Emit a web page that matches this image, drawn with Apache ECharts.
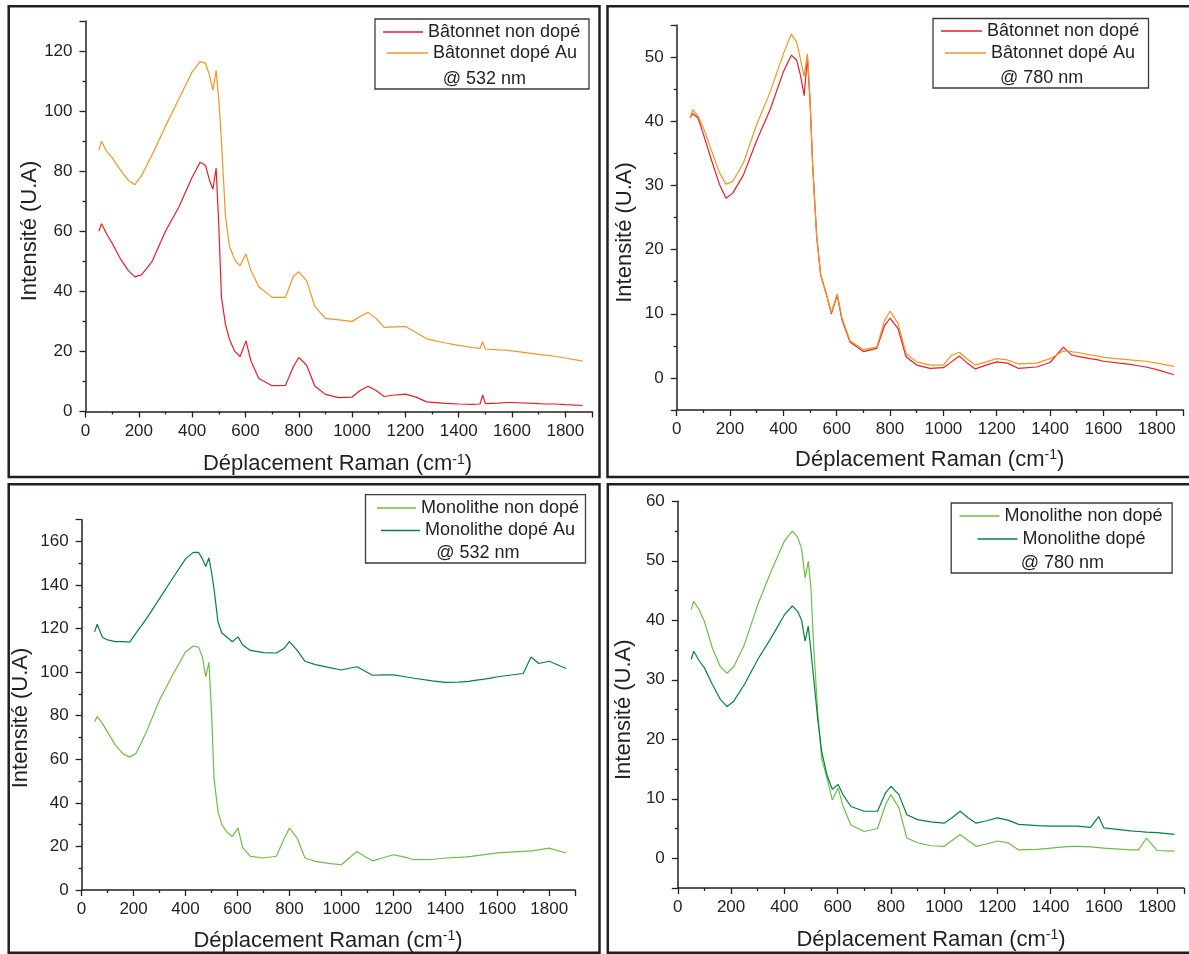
<!DOCTYPE html>
<html>
<head>
<meta charset="utf-8">
<script src="https://cdn.jsdelivr.net/npm/echarts@6/dist/echarts.min.js"></script>
<style>
html,body{margin:0;padding:0;background:#fff;}
#chart{width:1189px;height:954px;}
</style>
</head>
<body>
<div id="chart"></div>
<script>
// Raman shift (cm-1) sample positions shared by all spectra
const shift = [50,60,80,100,130,160,185,210,250,300,350,400,430,450,465,478,490,500,510,525,540,560,580,602,620,650,700,750,780,800,830,860,900,950,1000,1030,1060,1090,1120,1160,1200,1240,1280,1350,1400,1450,1480,1490,1500,1550,1580,1600,1700,1730,1760,1800,1865];

// Panel 1: Bâtonnet @ 532 nm
const baton532NonDope = [60,62.5,59,56,51,47,44.8,45.5,50,60,68,78,83,82,77,74,81,62,38,29,24,20,18.3,23.5,17,11,8.6,8.7,15,18,15.3,8.5,5.7,4.6,4.8,7,8.4,7,5,5.5,5.8,4.8,3.2,2.7,2.5,2.4,2.5,5.5,2.6,2.8,3,3,2.6,2.5,2.5,2.3,2];
const baton532Dope = [87,90,86.5,84.5,80.5,77,75.5,78.5,85.5,95,104,113,116.5,116,112,107,113.5,104,90,65,55,50.5,48.5,52.5,47,41.5,38,38,45,46.5,43.5,35,31,30.5,30,31.6,33,31,28,28.2,28.3,26.3,24.2,22.8,22,21.3,21,23.2,20.8,20.5,20.4,20.2,19,18.7,18.4,17.8,16.8];

// Panel 2: Bâtonnet @ 780 nm
const baton780NonDope = [40.5,41.2,40.5,38,34,30.2,28,28.8,31.6,37,41.8,47.7,50.3,49.5,47,44,50,43,33,22,16,13.2,10,12.9,9,5.6,4.1,4.6,8.2,9.3,7.7,3.3,2,1.5,1.6,2.5,3.4,2.3,1.4,2,2.5,2.3,1.5,1.7,2.4,4.8,3.6,3.5,3.4,3,2.8,2.6,2.1,1.9,1.7,1.3,0.5];
const baton780Dope = [40.5,41.8,40.8,39,35.5,32,30.2,30.6,33.5,39.5,44.5,50.5,53.6,52.3,49.5,47,50.5,43.5,33,22,16,13.2,10.2,13.1,9.3,5.8,4.4,4.8,9,10.4,8.5,3.8,2.5,2,2,3.5,4,2.9,2,2.5,3,2.8,2.2,2.3,3,4.2,4.1,4,4,3.6,3.4,3.2,2.8,2.7,2.6,2.3,1.8];

// Panel 3: Monolithe @ 532 nm
const mono532NonDope = [77.3,79.6,76.5,72.5,66.5,62.5,61,62.8,72.7,87.2,98.6,109.3,112,111.5,107,98,104.5,82,51,36,30,26.5,24.6,28.4,19.5,15.4,14.7,15.5,23.8,28.4,23.8,14.7,13.1,12.2,11.6,14.7,17.7,15.4,13.4,14.8,16.2,15.2,13.9,14,14.7,15,15.2,15.3,15.4,16.2,16.7,17,17.7,18,18.4,19.2,17];
const mono532Dope = [118.5,122,116,114.8,114,114,113.8,118,124.6,133.8,143,152,155,155,152,148.5,152.5,146,138,123,118,116,114,116.2,112.5,110,109,108.8,111,114,110,105,103.5,102.2,101,101.8,102.5,100.5,98.6,98.8,98.8,98,97.2,96,95.3,95.4,95.7,95.8,96,96.8,97.4,97.9,99.4,107,104,105,101.7];

// Panel 4: Monolithe @ 780 nm
const mono780NonDope = [41.8,43.2,41.8,39.8,35.3,32.2,31.1,32.2,35.9,42.6,48.2,53.3,55,54,52,47.1,49.9,45.4,35.9,24.7,16.8,13.5,9.8,11.8,8.8,5.6,4.5,5,9,10.7,8.5,3.4,2.6,2.1,2,3,4,3,2,2.4,2.9,2.6,1.4,1.5,1.7,1.9,2,2,2,1.9,1.8,1.7,1.4,1.4,3.4,1.3,1.2];
const mono780Dope = [33.4,34.8,33.2,32,29.2,26.7,25.5,26.4,29.2,33.4,37,40.9,42.4,41.5,40,36.5,39,34.8,30.3,23.6,18,14,11.6,12.4,10.7,8.7,7.9,7.9,11,12.1,10.7,7.3,6.5,6.1,5.9,6.8,7.9,6.8,5.9,6.3,6.8,6.4,5.7,5.5,5.4,5.4,5.4,5.4,5.4,5.2,7,5.1,4.6,4.5,4.4,4.3,4];

// Texts
const xTitle = 'Déplacement Raman (cm{sup|-1})';
const yTitle = 'Intensité (U.A)';
const laserNotes = ['@ 532 nm', '@ 780 nm', '@ 532 nm', '@ 780 nm'];

const FONT = "'Liberation Sans', Arial, Helvetica, sans-serif";
const INK = '#231f20';
const C_RED = '#ed1c24', C_ORANGE = '#f7941d', C_LGREEN = '#6cbf45', C_DGREEN = '#00853f';

const pairs = ys => shift.map((x, i) => [x, ys[i]]);
const plain = v => String(v);

const grids = [
  {left: 85.5, top: 21, width: 506.5, height: 390.5},
  {left: 676.7, top: 25, width: 506.7, height: 385},
  {left: 81.6, top: 519.7, width: 493.6, height: 370.3},
  {left: 677.8, top: 501.3, width: 506, height: 386.7}
];

function xAx(i) {
  return {
    type: 'value', gridIndex: i, min: 0, max: 1900, interval: 200,
    axisLine: {show: true, onZero: false, lineStyle: {color: INK, width: 1.5}},
    axisTick: {show: true, length: 6, lineStyle: {color: INK, width: 1.3}},
    minorTick: {show: true, splitNumber: 2, length: 3, lineStyle: {color: INK, width: 1.3}},
    splitLine: {show: false},
    axisLabel: {show: true, showMaxLabel: false, margin: 11, color: INK, fontSize: 17, fontFamily: FONT, formatter: plain}
  };
}
function yAx(i, extra) {
  return Object.assign({
    type: 'value', gridIndex: i,
    axisLine: {show: true, onZero: false, lineStyle: {color: INK, width: 1.5}},
    axisTick: {show: true, length: 6, lineStyle: {color: INK, width: 1.3}},
    minorTick: {show: true, splitNumber: 2, length: 3, lineStyle: {color: INK, width: 1.3}},
    splitLine: {show: false},
    axisLabel: {show: true, margin: 13, color: INK, fontSize: 17, fontFamily: FONT, formatter: plain}
  }, extra);
}

const yAxes = [
  yAx(0, {min: 0, max: 130, interval: 20}),
  yAx(1, {min: -5, max: 55, splitNumber: 6, minInterval: 10, maxInterval: 10}),
  yAx(2, {min: 0, max: 170, interval: 20}),
  yAx(3, {min: -5, max: 60, splitNumber: 6, minInterval: 10, maxInterval: 10})
];
yAxes[0].axisLabel.showMaxLabel = false;
yAxes[1].axisLabel.showMinLabel = false;
yAxes[1].axisLabel.showMaxLabel = false;
yAxes[2].axisLabel.showMaxLabel = false;
yAxes[3].axisLabel.showMinLabel = false;

function ser(name, ys, idx, color) {
  return {
    type: 'line', name: name, xAxisIndex: idx, yAxisIndex: idx,
    data: pairs(ys), symbol: 'none', showSymbol: false, smooth: false,
    lineStyle: {color: color, width: 1.2}, itemStyle: {color: color},
    clip: true, animation: false
  };
}

const series = [
  ser('Bâtonnet non dopé', baton532NonDope, 0, C_RED),
  ser('Bâtonnet dopé Au', baton532Dope, 0, C_ORANGE),
  ser('Bâtonnet non dopé', baton780NonDope, 1, C_RED),
  ser('Bâtonnet dopé Au', baton780Dope, 1, C_ORANGE),
  ser('Monolithe non dopé', mono532NonDope, 2, C_LGREEN),
  ser('Monolithe dopé Au', mono532Dope, 2, C_DGREEN),
  ser('Monolithe non dopé', mono780NonDope, 3, C_LGREEN),
  ser('Monolithe dopé', mono780Dope, 3, C_DGREEN)
];

// legend items: [name, color, sampleLeft, centerY, sampleWidth]
const legendItems = [
  ['Bâtonnet non dopé', C_RED, 383, 32, 40],
  ['Bâtonnet dopé Au', C_ORANGE, 387, 53, 41],
  ['Bâtonnet non dopé', C_RED, 941, 31, 41],
  ['Bâtonnet dopé Au', C_ORANGE, 945, 53, 41],
  ['Monolithe non dopé', C_LGREEN, 377, 508, 39],
  ['Monolithe dopé Au', C_DGREEN, 381, 530.5, 39],
  ['Monolithe non dopé', C_LGREEN, 959.5, 516, 40],
  ['Monolithe dopé', C_DGREEN, 977.5, 539, 40]
];
const legends = legendItems.map(([name, color, lx, cy, w]) => ({
  show: true, orient: 'vertical', left: lx, top: cy - 9, padding: 0,
  itemWidth: w, itemHeight: 1.3, selectedMode: false, z: 10,
  data: [{name: name, icon: 'rect', itemStyle: {color: color, borderWidth: 0}}],
  textStyle: {fontSize: 18, fontFamily: FONT, color: INK}
}));

// graphic: panel frames, legend frames, axis titles, laser notes
const frames = [
  [8.7, 6.2, 599.5, 477],
  [607.5, 6.2, 1192, 477],
  [8.7, 484.2, 599.5, 952.7],
  [607.8, 484.2, 1192, 952.7]
];
const legendBoxes = [
  [375, 19, 589, 89],
  [933, 18.5, 1148.5, 88],
  [365.5, 494.7, 585.5, 563],
  [951.2, 503, 1172.1, 573]
];
const notesPos = [[442.7, 79], [1000, 78], [436.3, 553], [1020.7, 563]];
const yTitlePos = [[29.7, 231], [624.5, 232.5], [21, 718], [623.5, 709.7]];
const xTitlePos = [[337.5, 464], [929.7, 459.5], [328, 940.5], [931, 939.5]];

const graphic = [];
frames.forEach(f => graphic.push({
  type: 'rect', silent: true, z: 0,
  shape: {x: f[0], y: f[1], width: f[2] - f[0], height: f[3] - f[1]},
  style: {fill: 'none', stroke: INK, lineWidth: 2.5}
}));
legendBoxes.forEach(b => graphic.push({
  type: 'rect', silent: true, z: 1,
  shape: {x: b[0], y: b[1], width: b[2] - b[0], height: b[3] - b[1]},
  style: {fill: 'none', stroke: '#3a3a3a', lineWidth: 1.3}
}));
notesPos.forEach((p, i) => graphic.push({
  type: 'text', silent: true, z: 5, x: p[0], y: p[1],
  style: {text: laserNotes[i], font: '18px ' + FONT, fill: INK, textAlign: 'left', textVerticalAlign: 'middle'}
}));
yTitlePos.forEach(p => graphic.push({
  type: 'text', silent: true, z: 5, x: p[0], y: p[1], rotation: Math.PI / 2,
  style: {text: yTitle, font: '22px ' + FONT, fill: INK, textAlign: 'center', textVerticalAlign: 'middle'}
}));
xTitlePos.forEach(p => graphic.push({
  type: 'text', silent: true, z: 5, x: p[0], y: p[1],
  style: {
    text: xTitle, font: '22px ' + FONT, fill: INK, textAlign: 'center', textVerticalAlign: 'middle',
    rich: {sup: {fontSize: 14, fontFamily: FONT, fill: INK, verticalAlign: 'top', padding: [0, 0, 6, 0]}}
  }
}));

const chart = echarts.init(document.getElementById('chart'), null, {renderer: 'canvas'});
chart.setOption({
  backgroundColor: '#ffffff',
  animation: false,
  textStyle: {fontFamily: FONT},
  grid: grids.map(g => Object.assign({containLabel: false}, g)),
  xAxis: [0, 1, 2, 3].map(xAx),
  yAxis: yAxes,
  legend: legends,
  series: series,
  graphic: graphic
});
</script>
</body>
</html>
